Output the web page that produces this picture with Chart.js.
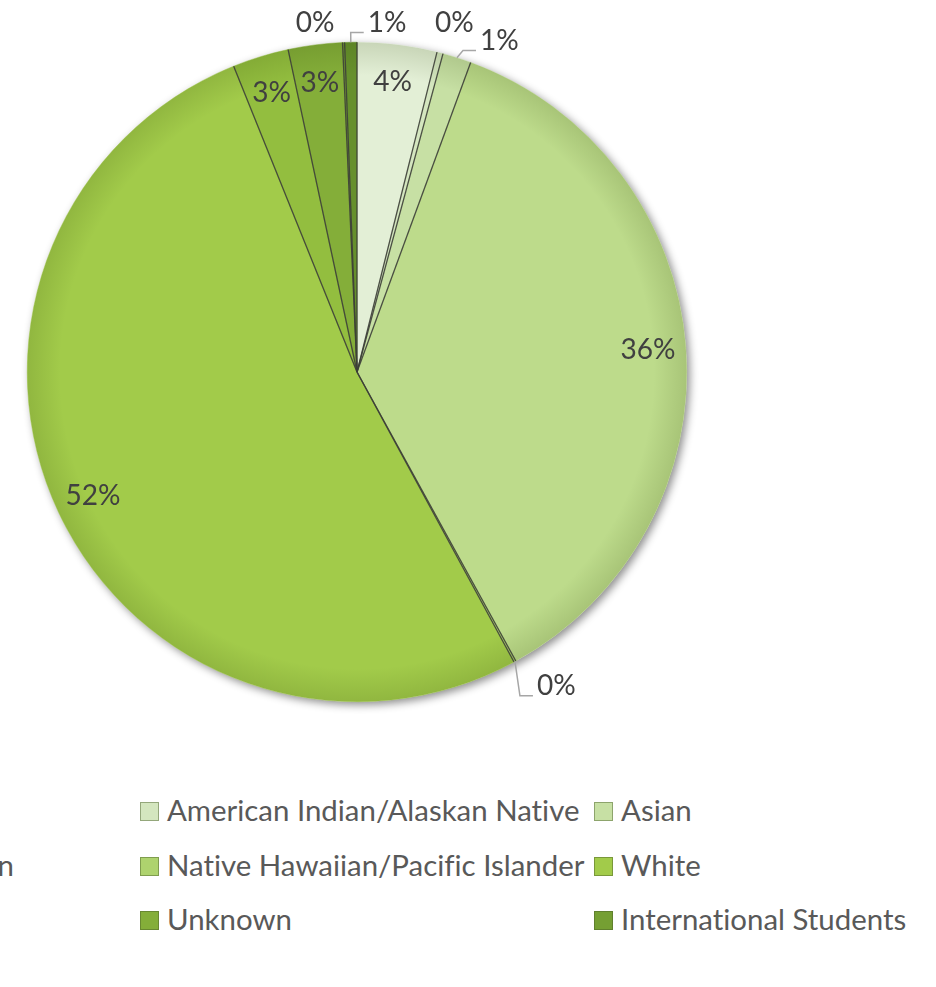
<!DOCTYPE html>
<html><head><meta charset="utf-8">
<script src="https://cdn.jsdelivr.net/npm/chart.js@4.4.1/dist/chart.umd.min.js"></script>
<style>
html,body{margin:0;padding:0;background:#fff;width:936px;height:987px;overflow:hidden;position:relative;}
#pie{position:absolute;left:0;top:0;}
.lg{position:absolute;white-space:nowrap;color:#595959;font-family:Lato,'Liberation Sans',sans-serif;line-height:1;font-variant-ligatures:none;font-feature-settings:"liga" 0,"dlig" 0;}
.lg i{position:absolute;left:0;width:19px;height:19px;box-sizing:border-box;border:1px solid rgba(70,90,40,0.45);}
.lg span{position:absolute;left:27px;}
</style></head>
<body>
<canvas id="pie" width="714" height="744"></canvas>
<div id="legend"></div>
<script>
// ---- data ----
const categories = ["Hispanic/Latino","American Indian/Alaskan Native","Asian","Black/African American","Native Hawaiian/Pacific Islander","White","Two or More Races","Unknown","International Students","Other"];
const shares = [3.9, 0.3, 1.4, 36.4, 0.1, 51.8, 2.75, 2.65, 0.1, 0.6];
const sliceColors = ["#e3efd6","#d4e6bf","#c7e0a4","#bddb8b","#aed36e","#a2cb4a","#93be3f","#84ae39","#759f33","#66902c"];

// ---- layout / style ----
const FONT_FAMILY = "Lato, 'Liberation Sans', sans-serif";
const mctx = document.createElement('canvas').getContext('2d');
function fitSize(text, target){ mctx.font = "30px " + FONT_FAMILY; return 30 * target / mctx.measureText(text).width; }
const legendFs = fitSize("American Indian/Alaskan Native", 413);
const labelFs = fitSize("36%", 55);

const outsideLabels = {
  1: {da: 1.0, dr: 33, leader: false},
  2: {da: 5.6, dr: 31, leader: true},
  4: {da: -3.8, dr: 42, leader: true},
  8: {da: -4.5, dr: 22, leader: false},
  9: {da: 6.0, dr: 21, leader: true}
};

const sliceLabelPlugin = {
  id: 'sliceLabels',
  beforeDatasetsDraw(chart) {
    const a = chart.getDatasetMeta(0).data[0]; if (!a) return;
    const p = a.getProps(['x','y','outerRadius'], true);
    const ctx = chart.ctx;
    ctx.save();
    ctx.shadowColor = 'rgba(0,0,0,0.45)';
    ctx.shadowBlur = 8; ctx.shadowOffsetX = 3; ctx.shadowOffsetY = 3;
    ctx.fillStyle = '#fff';
    ctx.beginPath(); ctx.arc(p.x, p.y, p.outerRadius, 0, Math.PI*2); ctx.fill();
    ctx.restore();
  },
  afterDatasetsDraw(chart, args, opts) {
    const meta = chart.getDatasetMeta(0);
    const ctx = chart.ctx;
    const c = meta.data[0].getProps(['x','y','outerRadius'], true);
    // rim shading (bevel-like)
    ctx.save();
    const g = ctx.createRadialGradient(c.x, c.y, c.outerRadius*0.9, c.x, c.y, c.outerRadius);
    g.addColorStop(0, 'rgba(40,60,0,0)');
    g.addColorStop(1, 'rgba(40,60,0,0.14)');
    ctx.fillStyle = g;
    ctx.beginPath(); ctx.arc(c.x, c.y, c.outerRadius, 0, Math.PI*2); ctx.fill();
    ctx.restore();
    // radial separators between slices
    ctx.save();
    ctx.strokeStyle = 'rgba(60,62,55,0.9)';
    ctx.lineWidth = 1.3;
    meta.data.forEach(arc => {
      const p = arc.getProps(['startAngle','outerRadius','x','y'], true);
      ctx.beginPath();
      ctx.moveTo(p.x, p.y);
      ctx.lineTo(p.x + p.outerRadius*Math.cos(p.startAngle), p.y + p.outerRadius*Math.sin(p.startAngle));
      ctx.stroke();
    });
    ctx.restore();

    const total = shares.reduce((s,v)=>s+v, 0);
    ctx.save();
    ctx.font = labelFs.toFixed(2) + "px " + FONT_FAMILY;
    ctx.fillStyle = '#404040';
    ctx.textAlign = 'center';
    ctx.textBaseline = 'middle';
    meta.data.forEach((arc, i) => {
      const p = arc.getProps(['startAngle','endAngle','outerRadius','x','y'], true);
      const mid = (p.startAngle + p.endAngle) / 2;
      const txt = Math.round(shares[i] / total * 100) + '%';
      const o = opts.outside[i];
      if (!o) {
        const r = p.outerRadius * opts.insideRatio;
        ctx.fillText(txt, p.x + r*Math.cos(mid), p.y + r*Math.sin(mid));
      } else {
        const ang = mid + o.da*Math.PI/180;
        const r = p.outerRadius + o.dr;
        const lx = p.x + r*Math.cos(ang), ly = p.y + r*Math.sin(ang);
        ctx.fillText(txt, lx, ly);
        if (o.leader) {
          const w = ctx.measureText(txt).width;
          const left = lx - w/2;
          const rx = p.x + p.outerRadius*Math.cos(mid), ry = p.y + p.outerRadius*Math.sin(mid);
          const ly2 = ly + 10;
          ctx.save();
          ctx.strokeStyle = '#a6a6a6'; ctx.lineWidth = 1.5;
          ctx.beginPath(); ctx.moveTo(rx, ry); ctx.lineTo(left-17, ly2); ctx.lineTo(left-4, ly2); ctx.stroke();
          ctx.restore();
        }
      }
    });
    ctx.restore();
  }
};

new Chart(document.getElementById('pie'), {
  type: 'pie',
  data: {
    labels: categories,
    datasets: [{
      data: shares,
      backgroundColor: sliceColors,
      borderColor: sliceColors,
      borderWidth: 0.5
    }]
  },
  options: {
    responsive: false,
    animation: false,
    devicePixelRatio: 1,
    layout: {padding: {top: 42, bottom: 42, left: 27, right: 27}},
    plugins: {
      legend: {display: false},
      tooltip: {enabled: false},
      sliceLabels: {insideRatio: 0.885, outside: outsideLabels}
    }
  },
  plugins: [sliceLabelPlugin]
});

// ---- legend (3 columns, row-major like the original) ----
(function(){
  const lg = document.getElementById('legend');
  mctx.font = legendFs.toFixed(2) + "px " + FONT_FAMILY;
  const col1 = 15 - mctx.measureText(categories[3]).width - 27;
  const colX = [col1, 140, 594];
  const rowC = [811, 866, 920, 974];
  categories.forEach((name, i) => {
    const d = document.createElement('div');
    d.className = 'lg';
    d.style.left = colX[i % 3] + 'px';
    d.style.top = (rowC[Math.floor(i/3)] - 9.5) + 'px';
    d.style.fontSize = legendFs.toFixed(2) + 'px';
    const m = document.createElement('i');
    m.style.background = sliceColors[i];
    m.style.top = '0px';
    const s = document.createElement('span');
    s.textContent = name;
    s.style.top = (9.5 - legendFs*0.53) + 'px';
    d.appendChild(m); d.appendChild(s);
    lg.appendChild(d);
  });
})();
</script>
</body></html>
